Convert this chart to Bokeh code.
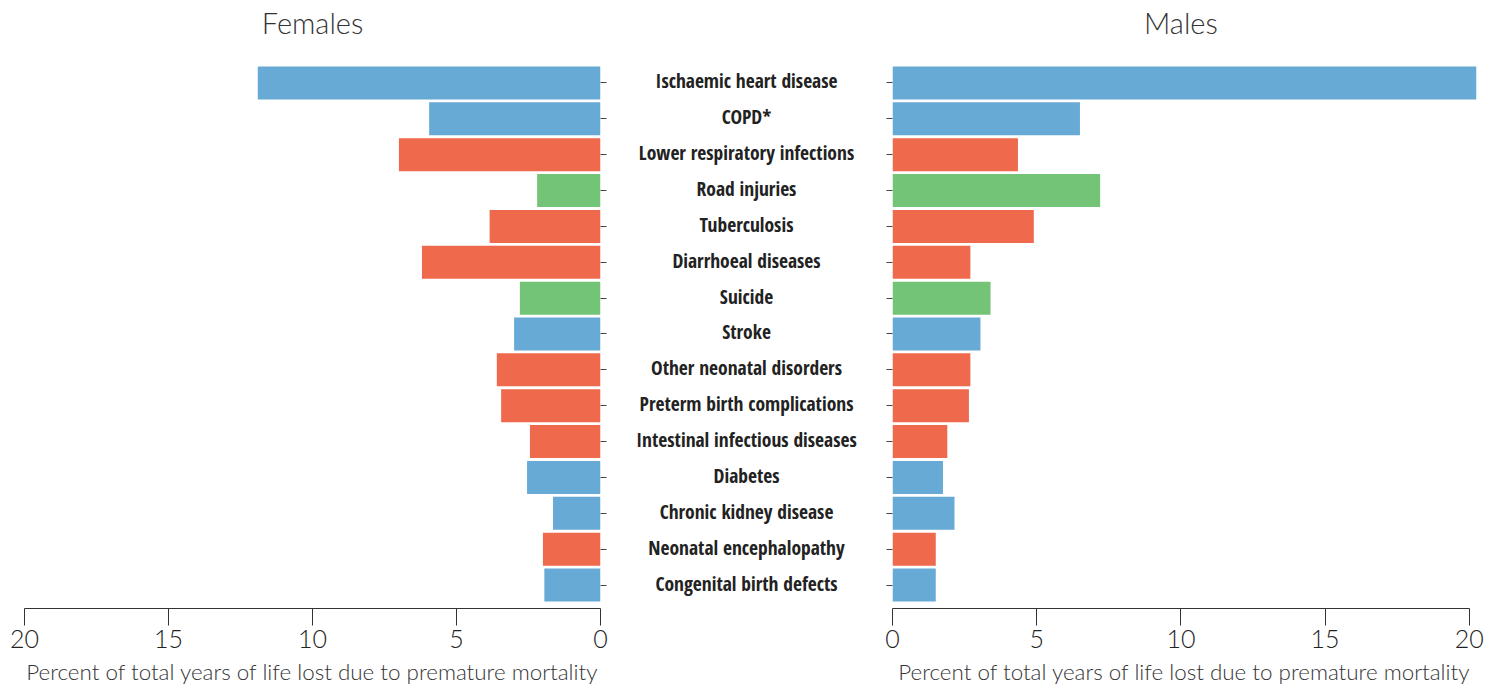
from bokeh.plotting import figure
from bokeh.layouts import row
from bokeh.models import Range1d, FixedTicker, ColumnDataSource
from bokeh.core.properties import value
from bokeh.embed import file_html
from bokeh.resources import INLINE

categories = ["Ischaemic heart disease", "COPD*", "Lower respiratory infections",
              "Road injuries", "Tuberculosis", "Diarrhoeal diseases", "Suicide",
              "Stroke", "Other neonatal disorders", "Preterm birth complications",
              "Intestinal infectious diseases", "Diabetes", "Chronic kidney disease",
              "Neonatal encephalopathy", "Congenital birth defects"]
groups = ["ncd", "ncd", "comm", "inj", "comm", "comm", "inj", "ncd", "comm",
          "comm", "comm", "ncd", "ncd", "comm", "ncd"]
females = [11.9, 5.95, 7.0, 2.2, 3.85, 6.2, 2.8, 3.0, 3.6, 3.45, 2.45, 2.55, 1.65, 2.0, 1.95]
males = [20.25, 6.5, 4.35, 7.2, 4.9, 2.7, 3.4, 3.05, 2.7, 2.65, 1.9, 1.75, 2.15, 1.5, 1.5]
x_ticks = [0, 5, 10, 15, 20]
panel_titles = ["Females", "Males"]
group_colors = {"ncd": "#68AAD6", "comm": "#EF694C", "inj": "#73C476"}

rows = list(range(len(categories)))
src = ColumnDataSource(dict(row=rows, cat=categories, female=females, male=males,
                            color=[group_colors[g] for g in groups]))

# numeric row positions (0 = top); extra room above the first row holds the panel titles
Y_BOTTOM = len(categories) - 1 + 0.655
Y_TOP = -2.30
TITLE_Y = -1.69
yr = Range1d(Y_BOTTOM, Y_TOP)

H = 688
BOT = 80
LIGHT = "Lato Light, Lato, sans-serif"
COND = "'Open Sans Condensed', 'DejaVu Sans Condensed', sans-serif"
AX_COLOR = "#333333"


def style(p):
    p.grid.visible = False
    p.outline_line_color = None
    p.background_fill_color = None
    p.border_fill_color = None


def style_x(ax):
    ax.ticker = FixedTicker(ticks=x_ticks)
    ax.minor_tick_line_color = None
    ax.major_tick_in = 0
    ax.major_tick_out = 17
    ax.major_tick_line_color = AX_COLOR
    ax.axis_line_color = AX_COLOR
    ax.major_label_text_font = LIGHT
    ax.major_label_text_font_size = "25px"
    ax.major_label_text_color = "#222222"
    ax.major_label_standoff = 4
    ax.axis_label = "Percent of total years of life lost due to premature mortality"
    ax.axis_label_text_font = LIGHT
    ax.axis_label_text_font_size = "22.4px"
    ax.axis_label_text_font_style = "normal"
    ax.axis_label_text_color = "#333333"
    ax.axis_label_standoff = 7


def style_y(ax):
    ax.ticker = FixedTicker(ticks=rows)
    ax.axis_line_color = None
    ax.major_tick_in = 0
    ax.major_tick_out = 6
    ax.major_tick_line_color = "#444444"
    ax.minor_tick_line_color = None
    ax.major_label_text_font_size = "1px"
    ax.major_label_text_color = None
    ax.major_label_standoff = 0


def add_title(p, text):
    p.text(x=[10], y=[TITLE_Y], text=[text], text_align="center", text_baseline="middle",
           text_font=value(LIGHT), text_font_size="29px", text_color="#333333")


pL = figure(width=620, height=H, x_range=Range1d(20, 0), y_range=yr,
            output_backend="svg", toolbar_location=None, y_axis_location="right",
            min_border_left=24, min_border_right=20, min_border_top=0,
            min_border_bottom=BOT)
pL.hbar(y="row", left=0, right="female", height=0.92, fill_color="color",
        line_color=None, source=src)
style(pL)
style_x(pL.xaxis[0])
style_y(pL.yaxis[0])
add_title(pL, panel_titles[0])

pM = figure(width=252, height=H, x_range=Range1d(0, 1), y_range=yr,
            output_backend="svg", toolbar_location=None,
            min_border_left=0, min_border_right=0, min_border_top=0,
            min_border_bottom=BOT)
pM.text(x=0.5, y="row", text="cat", source=src, text_align="center",
        text_baseline="middle", text_font=value(COND), y_offset=-2,
        text_font_size="19.5px", text_color="#222222")
pM.axis.visible = False
style(pM)

pR = figure(width=616, height=H, x_range=Range1d(0, 20.25), y_range=yr,
            output_backend="svg", toolbar_location=None,
            min_border_left=20, min_border_right=12, min_border_top=0,
            min_border_bottom=BOT)
pR.hbar(y="row", left=0, right="male", height=0.92, fill_color="color",
        line_color=None, source=src)
style(pR)
style_x(pR.xaxis[0])
pR.xaxis[0].bounds = (0, 20)
style_y(pR.yaxis[0])
add_title(pR, panel_titles[1])

layout = row(pL, pM, pR)
open("out.html", "w").write(file_html(layout, INLINE))
